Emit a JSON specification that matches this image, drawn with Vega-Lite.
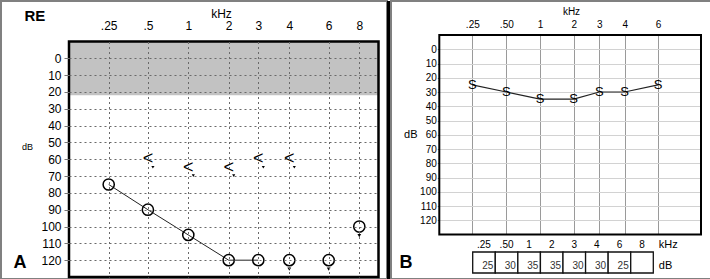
{
  "$schema": "https://vega.github.io/schema/vega-lite/v6.json",
  "padding": 0,
  "background": "white",
  "spacing": 0,
  "bounds": "flush",
  "config": {
    "font": "Liberation Sans",
    "view": {"stroke": null},
    "axis": {"labelFont": "Liberation Sans", "titleFont": "Liberation Sans", "labelColor": "black", "titleColor": "black", "labelOverlap": false}
  },
  "datasets": {
    "air": [
      {"f": 0.25, "db": 75, "conn": true, "nr": false},
      {"f": 0.5, "db": 90, "conn": true, "nr": false},
      {"f": 1, "db": 105, "conn": true, "nr": false},
      {"f": 2, "db": 120, "conn": true, "nr": false},
      {"f": 3, "db": 120, "conn": true, "nr": false},
      {"f": 4, "db": 120, "conn": false, "nr": true},
      {"f": 6, "db": 120, "conn": false, "nr": true},
      {"f": 8, "db": 100, "conn": false, "nr": true}
    ],
    "bone": [
      {"f": 0.5, "db": 60},
      {"f": 1, "db": 65},
      {"f": 2, "db": 65},
      {"f": 3, "db": 60},
      {"f": 4, "db": 60}
    ],
    "sf": [
      {"f": 0.25, "db": 25},
      {"f": 0.5, "db": 30},
      {"f": 1, "db": 35},
      {"f": 2, "db": 35},
      {"f": 3, "db": 30},
      {"f": 4, "db": 30},
      {"f": 6, "db": 25}
    ],
    "tab": [
      {"k": ".25", "v": "25"},
      {"k": ".50", "v": "30"},
      {"k": "1", "v": "35"},
      {"k": "2", "v": "35"},
      {"k": "3", "v": "30"},
      {"k": "4", "v": "30"},
      {"k": "6", "v": "25"},
      {"k": "8", "v": ""}
    ]
  },
  "hconcat": [
    {
      "width": 386,
      "height": 278,
      "view": {"stroke": "#808080", "strokeWidth": 2, "fill": "white"},
      "resolve": {"axis": {"x": "independent", "y": "independent"}},
      "layer": [
        {
          "data": {"values": [{"lo": -10, "hi": 22}]},
          "mark": {"type": "rect", "fill": "#c2c2c2"},
          "encoding": {
            "x": {"datum": 0.125, "type": "quantitative", "axis": null,
              "scale": {"type": "linear", "domain": [0.125, 0.25, 0.5, 1, 2, 3, 4, 6, 8, 10], "range": [68, 107.7, 146.9, 187.3, 227.7, 257.3, 288.3, 327.7, 358.3, 377.5], "zero": false, "nice": false}},
            "x2": {"datum": 10},
            "y": {"field": "lo", "type": "quantitative",
              "scale": {"domain": [-10, 130], "range": [40.5, 276], "zero": false, "nice": false},
              "axis": {"orient": "left", "offset": -68, "values": [0, 10, 20, 30, 40, 50, 60, 70, 80, 90, 100, 110, 120], "labelOverlap": false, "domain": false, "tickSize": 5, "tickColor": "#777777", "labelPadding": 3, "labelFontSize": 12, "labelColor": "black", "grid": true, "gridDash": [2, 3], "gridColor": "#6a6a6a", "zindex": 1, "title": "dB", "titleColor": "black", "titleAngle": 0, "titleFontSize": 9, "titleFontWeight": "normal", "titleX": -42, "titleY": 145, "titleAlign": "center", "titleBaseline": "middle"}},
            "y2": {"field": "hi"}
          }
        },
        {
          "data": {"values": [{}]},
          "mark": {"type": "rect", "fillOpacity": 0, "stroke": "black", "strokeWidth": 2.5},
          "encoding": {
            "x": {"datum": 0.125, "type": "quantitative",
              "axis": {"orient": "top", "offset": 0, "labels": false, "ticks": false, "domain": false, "grid": false, "title": "RE", "titleColor": "black", "titleX": 23, "titleY": 19, "titleAlign": "left", "titleBaseline": "alphabetic", "titleFontSize": 15, "titleFontWeight": "bold", "titleAngle": 0}},
            "x2": {"datum": 10},
            "y": {"datum": -10, "type": "quantitative", "axis": null},
            "y2": {"datum": 130}
          }
        },
        {
          "data": {"name": "air"},
          "transform": [{"filter": "datum.conn"}],
          "mark": {"type": "line", "color": "#222222", "strokeWidth": 1},
          "encoding": {
            "x": {"field": "f", "type": "quantitative", "axis": null},
            "y": {"field": "db", "type": "quantitative", "axis": null}
          }
        },
        {
          "data": {"name": "air"},
          "mark": {"type": "point", "shape": "circle", "filled": false, "stroke": "black", "strokeWidth": 1.5, "size": 125, "opacity": 1},
          "encoding": {
            "x": {"field": "f", "type": "quantitative",
              "axis": {"orient": "bottom", "labels": false, "ticks": false, "domain": false, "grid": false, "title": "A", "titleColor": "black", "titleX": 12, "titleY": -12, "titleAlign": "left", "titleBaseline": "alphabetic", "titleFontSize": 18, "titleFontWeight": "bold", "titleAngle": 0}},
            "y": {"field": "db", "type": "quantitative", "axis": null}
          }
        },
        {
          "data": {"name": "air"},
          "transform": [{"filter": "datum.nr"}],
          "mark": {"type": "point", "shape": "triangle-down", "filled": true, "color": "black", "size": 14, "yOffset": 9, "opacity": 1},
          "encoding": {
            "x": {"field": "f", "type": "quantitative", "axis": null},
            "y": {"field": "db", "type": "quantitative", "axis": null}
          }
        },
        {
          "data": {"name": "bone"},
          "mark": {"type": "text", "fontSize": 18, "color": "black", "align": "center", "baseline": "middle"},
          "encoding": {
            "text": {"value": "<"},
            "x": {"field": "f", "type": "quantitative",
              "axis": {"orient": "top", "offset": -40.5, "values": [0.25, 0.5, 1, 2, 3, 4, 6, 8], "labelExpr": "datum.value == 0.25 ? '.25' : datum.value == 0.5 ? '.5' : datum.label", "domain": false, "ticks": false, "labelPadding": 9, "labelFontSize": 12, "labelColor": "black", "grid": true, "gridDash": [2, 3], "gridColor": "#6a6a6a", "zindex": 1, "title": "kHz", "titleColor": "black", "titleFontSize": 12, "titleFontWeight": "normal", "titleX": 220, "titleY": -24.5, "titleAlign": "center", "titleBaseline": "alphabetic"}},
            "y": {"field": "db", "type": "quantitative", "axis": null}
          }
        },
        {
          "data": {"name": "bone"},
          "mark": {"type": "point", "shape": "triangle-down", "filled": true, "color": "black", "size": 10, "xOffset": 5, "yOffset": 8, "opacity": 1},
          "encoding": {
            "x": {"field": "f", "type": "quantitative", "axis": null},
            "y": {"field": "db", "type": "quantitative", "axis": null}
          }
        }
      ]
    },
    {
      "width": 4,
      "height": 279,
      "data": {"values": [{}]},
      "mark": {"type": "point", "opacity": 0},
      "encoding": {},
      "view": {"fill": "black", "stroke": null}
    },
    {
      "width": 320,
      "height": 278,
      "view": {"stroke": "#808080", "strokeWidth": 2, "fill": "white"},
      "resolve": {"scale": {"x": "independent", "y": "independent"}},
      "layer": [
        {
          "resolve": {"axis": {"x": "independent", "y": "independent"}},
          "layer": [
            {
              "data": {"values": [{}]},
              "mark": {"type": "rect", "fillOpacity": 0, "stroke": "black", "strokeWidth": 2},
              "encoding": {
                "x": {"datum": 0.125, "type": "quantitative",
                  "scale": {"type": "linear", "domain": [0.125, 0.25, 0.5, 1, 2, 3, 4, 6, 8], "range": [48.3, 81.3, 115.3, 149, 182.7, 208.3, 233.7, 267, 310], "zero": false, "nice": false},
                  "axis": {"orient": "top", "offset": -34, "values": [0.25, 0.5, 1, 2, 3, 4, 6], "labelExpr": "datum.value == 0.25 ? '.25' : datum.value == 0.5 ? '.50' : datum.label", "domain": false, "ticks": false, "labelPadding": 6, "labelFontSize": 10, "labelColor": "black", "grid": true, "gridColor": "#9a9a9a", "gridWidth": 1, "title": "kHz", "titleColor": "black", "titleFontSize": 10, "titleFontWeight": "normal", "titleX": 180, "titleY": -21, "titleAlign": "center", "titleBaseline": "alphabetic"}},
                "x2": {"datum": 8},
                "y": {"datum": -10, "type": "quantitative",
                  "scale": {"domain": [-10, 130], "range": [34, 233.5], "zero": false, "nice": false},
                  "axis": {"orient": "left", "offset": -48.3, "values": [0, 10, 20, 30, 40, 50, 60, 70, 80, 90, 100, 110, 120], "labelOverlap": false, "domain": false, "tickSize": 2, "tickColor": "#777777", "labelPadding": 1, "labelFontSize": 10, "labelColor": "black", "grid": true, "gridColor": "#d2d2d2", "title": "dB", "titleColor": "black", "titleAngle": 0, "titleFontSize": 11, "titleFontWeight": "normal", "titleX": -29, "titleY": 133, "titleAlign": "center", "titleBaseline": "middle"}},
                "y2": {"datum": 130}
              }
            },
            {
              "data": {"name": "sf"},
              "mark": {"type": "line", "color": "#222222", "strokeWidth": 1.2},
              "encoding": {
                "x": {"field": "f", "type": "quantitative", "axis": null},
                "y": {"field": "db", "type": "quantitative", "axis": null}
              }
            },
            {
              "data": {"name": "sf"},
              "mark": {"type": "text", "fontSize": 13, "color": "black", "align": "center", "baseline": "middle"},
              "encoding": {
                "text": {"value": "S"},
                "x": {"field": "f", "type": "quantitative", "axis": null},
                "y": {"field": "db", "type": "quantitative", "axis": null}
              }
            }
          ]
        },
        {
          "data": {"name": "tab"},
          "resolve": {"axis": {"x": "independent", "y": "independent"}},
          "layer": [
            {
              "mark": {"type": "rect", "fill": "white", "stroke": "#111111", "strokeWidth": 1.3},
              "encoding": {
                "x": {"field": "k", "type": "nominal", "sort": null,
                  "scale": {"type": "band", "domain": [".25", ".50", "1", "2", "3", "4", "6", "8"], "range": [81.7, 262.3], "paddingInner": 0, "paddingOuter": 0},
                  "axis": {"orient": "top", "offset": -251, "domain": false, "ticks": false, "grid": false, "labelPadding": 3, "labelFontSize": 10, "labelColor": "black", "labelAngle": 0, "title": null}},
                "y": {"datum": "dB", "type": "nominal",
                  "scale": {"type": "band", "domain": ["kHz", "dB"], "range": [230, 272], "paddingInner": 0, "paddingOuter": 0},
                  "axis": {"orient": "right", "offset": -57.7, "domain": false, "ticks": false, "grid": false, "labelPadding": 5, "labelOffset": 3, "labelFontSize": 11, "labelColor": "black", "title": "B", "titleColor": "black", "titleAngle": 0, "titleX": -254.3, "titleY": 266, "titleAlign": "left", "titleBaseline": "alphabetic", "titleFontSize": 18, "titleFontWeight": "bold"}}
              }
            },
            {
              "mark": {"type": "text", "fontSize": 10, "color": "#333333", "align": "right", "baseline": "alphabetic", "dx": -2, "dy": -4},
              "encoding": {
                "text": {"field": "v"},
                "x": {"field": "k", "type": "nominal", "sort": null, "bandPosition": 1, "axis": null},
                "y": {"datum": "dB", "type": "nominal", "bandPosition": 1, "axis": null}
              }
            }
          ]
        }
      ]
    }
  ]
}
